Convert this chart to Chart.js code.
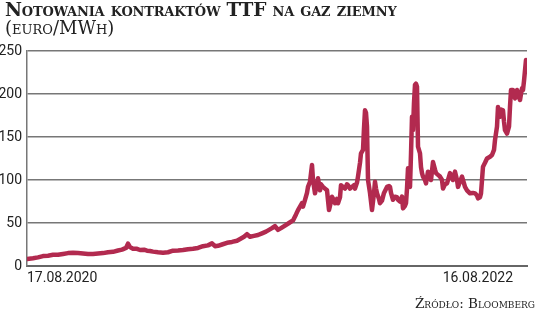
<!DOCTYPE html>
<html><head><meta charset="utf-8">
<script src="https://cdn.jsdelivr.net/npm/chart.js@4.4.1/dist/chart.umd.min.js"></script>
<style>
html,body{margin:0;padding:0;background:#fff;width:536px;height:318px;overflow:hidden;}
#wrap{position:absolute;left:0;top:0;width:536px;height:318px;}
.t1{position:absolute;left:5px;top:-1px;font-family:"DejaVu Serif",serif;font-weight:bold;font-size:18.6px;font-variant:small-caps;color:#222;white-space:nowrap;letter-spacing:-0.2px;}
.t2{position:absolute;left:5px;top:17px;font-family:"DejaVu Serif",serif;font-size:18px;font-variant:small-caps;color:#222;white-space:nowrap;}
.src{position:absolute;right:1px;top:295px;font-family:"DejaVu Serif",serif;font-size:13.5px;font-variant:small-caps;color:#222;white-space:nowrap;}
</style></head>
<body>
<div id="wrap"><canvas id="c" width="536" height="318"></canvas></div>
<div class="t1">Notowania kontraktów TTF na gaz ziemny</div>
<div class="t2">(euro/MWh)</div>
<div class="src">Źródło: Bloomberg</div>
<script>
// trading session index since 17.08.2020
const sessions = [0,6,11,16,21,26,31,36,41,46,51,56,61,66,71,76,81,86,91,95,99,101,103,106,110,113,117,120,123,126,131,136,141,146,151,156,161,166,171,176,181,185,188,191,195,200,205,210,214,217,220,223,227,231,235,239,242,245,248,251,254,258,262,266,269,271,273,275,276,278,280,281,283,285,286,288,290,291,293,294,296,298,300,302,304,305,307,308,310,311,313,314,316,318,320,321,323,325,327,328,330,331,333,334,336,337,338,339,340,341,343,345,347,348,349,350,352,353,355,357,360,362,363,364,366,368,370,371,373,375,376,378,379,380,381,382,383,384,385,386,387,388,389,390,391,393,394,395,396,398,399,401,403,404,406,408,409,411,413,415,416,418,420,422,423,425,426,428,430,431,433,435,437,438,440,443,446,448,450,451,453,454,455,456,458,460,463,465,467,468,470,471,472,473,474,476,477,478,480,482,483,484,486,487,488,489,490,492,493,494,495,496,497,499];
// TTF price, EUR/MWh
const prices = [8,9,10,11.5,12,13,13,14,15,15.5,15,14.5,14,14,14.5,15,16,16.5,18,19,21,26,22,20,20,18.6,19,17.8,17.5,16.7,16,15.5,16,17.8,18,18.5,19.5,20,21,23,24,26.3,23,23.5,25,27,28,29.4,32,34,37,34,35,36,38,40,42,44,46.5,42,44,47,50,53,60,65,69,73,69,77,85,92,98,117.5,100,84.5,95,102,88,95,92,90,88,65,75,80.6,76,73,78,73,80,94,92,90,95,94,90,92,94,90,97,104,120,131,135,160,181,178,162,100,85,65,85,98,90,84.5,78,73,76,85,92,93,92,85,77,80.6,80,77,75,80.6,67,70,73,90,113.6,112,92,130,173.6,158,190,210.5,212,208.5,138.7,131,115,108,104,100,96,109.7,104,100,121,112,108,106,104,100,90,95,96,104,108,104,100,109.7,100,92,98,104,96,92,88,84.5,85,84.5,82,78.7,80,84.5,100,115.5,120,125,127,129,135,146.5,162,185,175,173.6,182,181,168,158,154,162,185,204.6,204.6,198,195,200,204.6,196,193,200,206.6,204.6,215,239.5];
const yTicks = [0,50,100,150,200,250];
const xTickLabels = ["17.08.2020","16.08.2022"];
const xTickAt = [0,486];
const xMax = 500;

const points = sessions.map((s,i)=>({x:s,y:prices[i]}));

new Chart(document.getElementById('c'),{
  type:'line',
  data:{datasets:[{data:points,borderColor:'#b22a4f',borderWidth:4.5,pointRadius:0,tension:0,borderJoinStyle:'round',borderCapStyle:'round'}]},
  options:{
    responsive:false,animation:false,
    layout:{padding:{top:51,right:9,left:0,bottom:0}},
    plugins:{legend:{display:false},tooltip:{enabled:false}},
    scales:{
      x:{type:'linear',min:0,max:xMax,
        afterBuildTicks:(s)=>{s.ticks=xTickAt.map(v=>({value:v}));},
        afterFit:(s)=>{s.height=52;},
        ticks:{align:'inner',maxRotation:0,padding:4,color:'#222',font:{family:'Roboto',size:14},
          callback:(v,i)=>xTickLabels[i]},
        grid:{display:false,drawTicks:false},
        border:{display:true,color:'#666',width:2}
      },
      y:{min:0,max:250,
        afterBuildTicks:(s)=>{s.ticks=yTicks.map(v=>({value:v}));},
        afterFit:(s)=>{s.width=27;},
        ticks:{padding:5,color:'#222',font:{family:'Roboto',size:14}},
        grid:{color:'#777',lineWidth:1.5,drawTicks:false},
        border:{display:true,color:'#777',width:1.5}
      }
    }
  }
});
</script>
</body></html>
